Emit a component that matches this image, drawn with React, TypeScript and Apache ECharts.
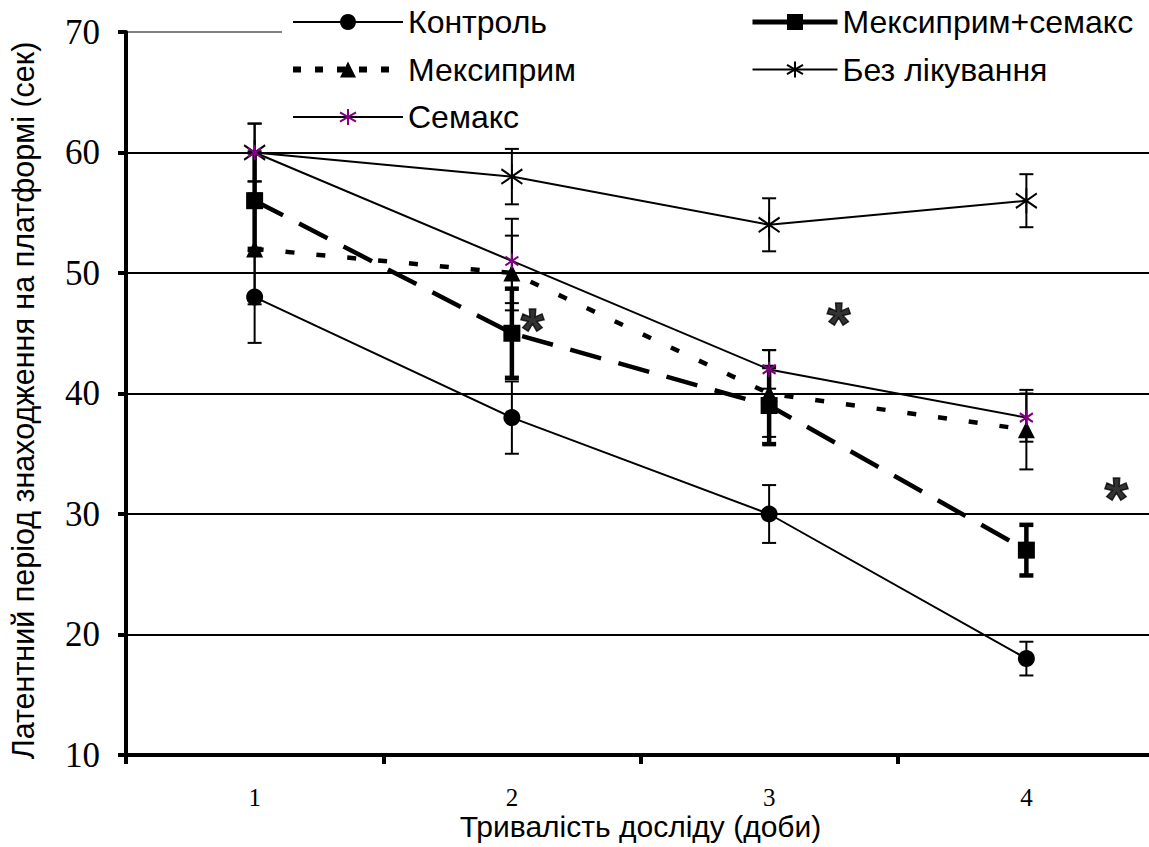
import React, { useEffect, useRef } from "react";
import * as echarts from "echarts";

const days = ["1", "2", "3", "4"];
const yTicks = [10, 20, 30, 40, 50, 60, 70];

const control = [48, 38, 30, 18];
const controlErr = [3.8, 3.0, 2.4, 1.4];
const mexSem = [56, 45, 39, 27];
const mexSemErr = [4.0, 3.7, 3.2, 2.1];
const mex = [52, 50, 40, 37];
const mexErr = [4.6, 3.1, 3.6, 3.3];
const noTreat = [60, 58, 54, 56];
const noTreatErr = [2.4, 2.3, 2.2, 2.2];
const semax = [60, 51, 42, 38];
const semaxErr = [2.4, 3.5, 1.6, 2.0];

const starMarks = [
  [2.08, 46.3],
  [3.27, 46.8],
  [4.35, 32.3],
];

const names = {
  control: "Контроль",
  mexSem: "Мексиприм+семакс",
  mex: "Мексиприм",
  noTreat: "Без лікування",
  semax: "Семакс",
};

const SANS = "'Liberation Sans', Arial, sans-serif";
const SERIF = "'Liberation Serif', 'Times New Roman', serif";

const starPath = "path://M10 0 L10 24 M0 5 L20 19 M0 19 L20 5";

function errData(vals: number[], errs: number[]) {
  return vals.map((v, i) => [i, v - errs[i], v + errs[i]]);
}

function errSeries(name: string, vals: number[], errs: number[], width: number, cap: number, z: number) {
  return {
    name,
    type: "custom",
    xAxisIndex: 0,
    yAxisIndex: 0,
    z,
    silent: true,
    encode: { x: 0, y: [1, 2] },
    data: errData(vals, errs),
    renderItem: (_p: any, api: any) => {
      const idx = api.value(0);
      const lo = api.coord([idx, api.value(1)]);
      const hi = api.coord([idx, api.value(2)]);
      const h = cap / 2;
      const st = { stroke: "#000", lineWidth: width };
      return {
        type: "group",
        children: [
          { type: "line", shape: { x1: lo[0], y1: lo[1], x2: hi[0], y2: hi[1] }, style: st },
          { type: "line", shape: { x1: lo[0] - h, y1: lo[1], x2: lo[0] + h, y2: lo[1] }, style: st },
          { type: "line", shape: { x1: hi[0] - h, y1: hi[1], x2: hi[0] + h, y2: hi[1] }, style: st },
        ],
      };
    },
  };
}

export default function App() {
  const ref = useRef<HTMLDivElement>(null);
  useEffect(() => {
    if (!ref.current) return;
    const chart = echarts.init(ref.current, undefined, { renderer: "svg" });
    const legendText = { fontFamily: SANS, fontSize: 32, lineHeight: 32, color: "#000" };
    chart.setOption({
      animation: false,
      backgroundColor: "#fff",
      grid: {
        left: 126,
        top: 32,
        right: -6,
        bottom: 92,
        containLabel: false,
        outerBoundsMode: "none",
      },
      legend: [
        {
          orient: "vertical",
          left: 290,
          top: 6,
          padding: 0,
          itemWidth: 110,
          itemHeight: 20,
          itemGap: 15.5,
          z: 10,
          textStyle: legendText,
          data: [
            names.control,
            { name: names.mex, lineStyle: { width: 6, type: [8, 14] } },
            names.semax,
          ],
        },
        {
          orient: "vertical",
          left: 750,
          top: 6,
          padding: 0,
          itemWidth: 85,
          itemHeight: 20,
          itemGap: 15.5,
          z: 10,
          textStyle: legendText,
          data: [{ name: names.mexSem, lineStyle: { width: 5, type: "solid" } }, names.noTreat],
        },
      ],
      graphic: [
        {
          type: "rect",
          z: 3,
          shape: { x: 282, y: 22, width: 900, height: 22 },
          style: { fill: "#fff" },
        },
      ],
      xAxis: [
        {
          type: "category",
          data: days,
          boundaryGap: true,
          axisLine: { show: true, lineStyle: { color: "#000", width: 4 } },
          axisTick: { show: true, interval: 0, length: 9, lineStyle: { color: "#000", width: 4 } },
          axisLabel: { fontFamily: SERIF, fontSize: 25, lineHeight: 18, color: "#000", margin: 33 },
          splitLine: { show: false },
          name: "Тривалість досліду (доби)",
          nameLocation: "middle",
          nameGap: 56,
          nameMoveOverlap: false,
          nameTextStyle: { fontFamily: SANS, fontSize: 30, lineHeight: 31, color: "#000" },
        },
        {
          type: "value",
          min: 0.5,
          max: 4.5,
          show: false,
        },
      ],
      yAxis: {
        type: "value",
        min: 10,
        max: 70,
        interval: 10,
        axisLine: { show: true, lineStyle: { color: "#000", width: 4 } },
        axisTick: { show: true, length: 8, lineStyle: { color: "#000", width: 4 } },
        axisLabel: {
          fontFamily: SERIF,
          fontSize: 35,
          color: "#000",
          margin: 26,
          formatter: (v: number) => (yTicks.includes(v) ? String(v) : ""),
        },
        splitLine: {
          show: true,
          lineStyle: {
            color: ["#000", "#000", "#000", "#000", "#000", "#000", "#808080"],
            width: 2,
          },
        },
        name: "Латентний період знаходження на платформі (сек)",
        nameLocation: "middle",
        nameGap: 88,
        nameMoveOverlap: false,
        nameTextStyle: { fontFamily: SANS, fontSize: 30.5, color: "#000", padding: [0, 14, 0, 0] },
      },
      series: [
        errSeries("e-control", control, controlErr, 2, 14, 1),
        errSeries("e-mex", mex, mexErr, 2, 14, 1),
        errSeries("e-noTreat", noTreat, noTreatErr, 2, 14, 1),
        errSeries("e-semax", semax, semaxErr, 2, 14, 1),
        errSeries("e-mexSem", mexSem, mexSemErr, 4.5, 14, 1),
        {
          name: names.control,
          type: "line",
          data: control,
          z: 3,
          symbol: "circle",
          symbolSize: 17,
          lineStyle: { color: "#000", width: 2 },
          itemStyle: { color: "#000" },
        },
        {
          name: names.mex,
          type: "line",
          data: mex,
          z: 3,
          symbol: "triangle",
          symbolSize: 17,
          lineStyle: { color: "#000", width: 4.5, type: [9, 22] },
          itemStyle: { color: "#000" },
        },
        {
          name: names.mexSem,
          type: "line",
          data: mexSem,
          z: 4,
          symbol: "rect",
          symbolSize: 17,
          lineStyle: { color: "#000", width: 4.5, type: [32, 18] },
          itemStyle: { color: "#000" },
        },
        {
          name: names.noTreat,
          type: "line",
          data: noTreat,
          z: 3,
          symbol: starPath,
          symbolSize: [21, 25],
          lineStyle: { color: "#000", width: 2 },
          itemStyle: { color: "#000", borderColor: "#000", borderWidth: 2 },
        },
        {
          name: names.semax,
          type: "line",
          data: semax,
          z: 5,
          symbol: starPath,
          symbolSize: [13, 15],
          lineStyle: { color: "#000", width: 2 },
          itemStyle: { color: "#800080", borderColor: "#800080", borderWidth: 2 },
        },
        {
          name: "stars",
          type: "scatter",
          xAxisIndex: 1,
          yAxisIndex: 0,
          z: 6,
          silent: true,
          symbolSize: 1,
          itemStyle: { color: "rgba(0,0,0,0)" },
          data: starMarks,
          label: {
            show: true,
            position: "inside",
            formatter: "*",
            fontFamily: SANS,
            fontWeight: "bold",
            fontSize: 60,
            color: "#000",
            textBorderColor: "#000",
            textBorderWidth: 1.5,
            offset: [0, 12],
          },
        },
      ],
    });
    return () => chart.dispose();
  }, []);
  return (
    <div
      ref={ref}
      style={{ position: "absolute", left: 0, top: 0, width: 1149, height: 847, background: "#fff" }}
    />
  );
}
